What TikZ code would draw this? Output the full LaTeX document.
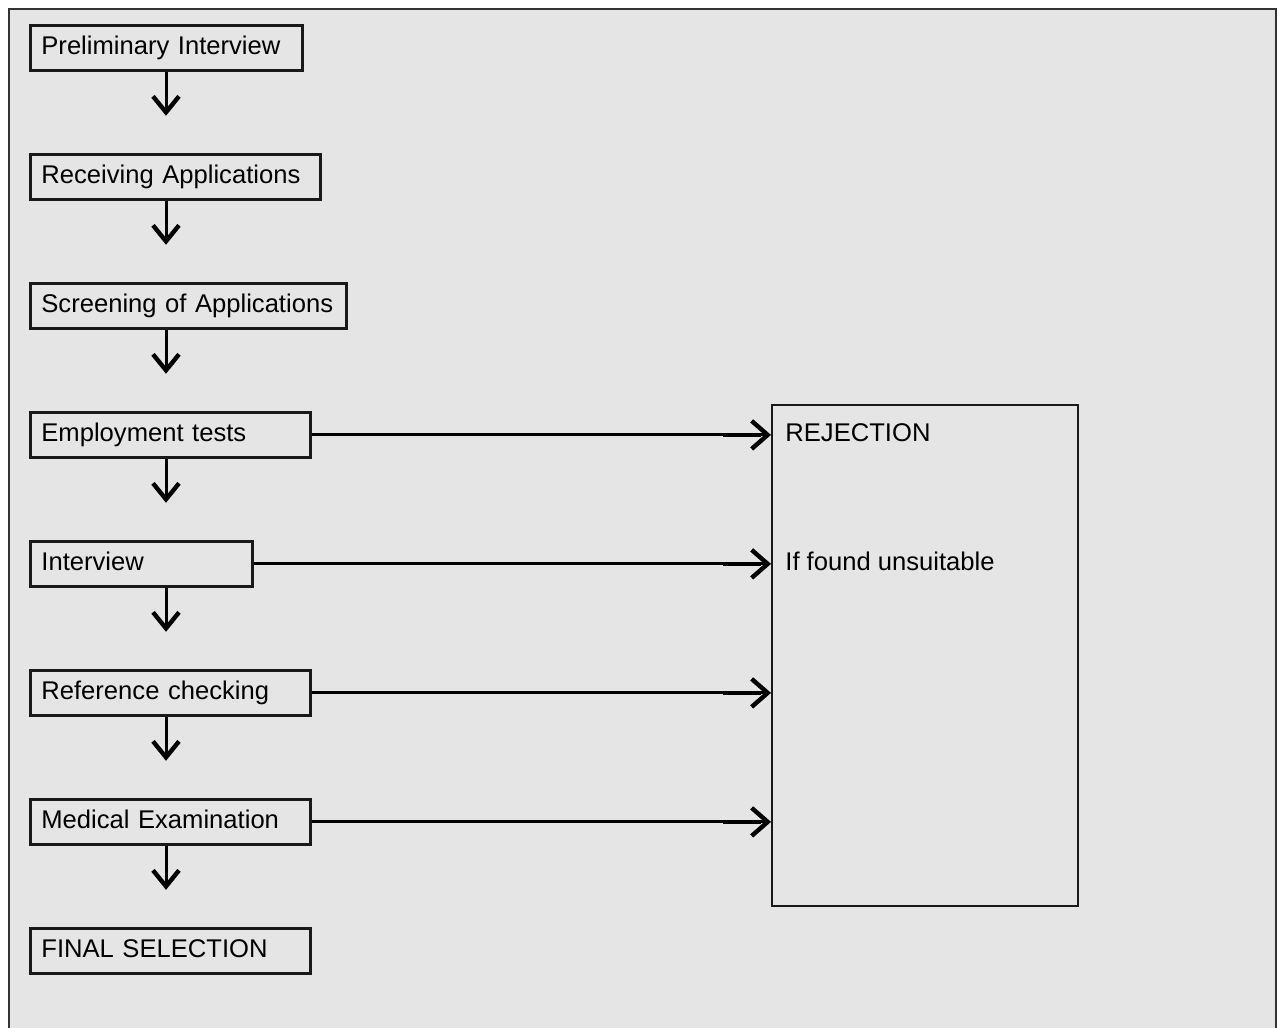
\documentclass[tikz,border=0pt]{standalone}
\usepackage{fontspec}
\setmainfont{Liberation Sans}
\usetikzlibrary{positioning,arrows.meta}
\definecolor{pagegray}{RGB}{229,229,229}

\begin{document}
\begin{tikzpicture}[
        x=0.5pt, y=-0.5pt,
        node distance=40.6pt,
        every node/.style={font=\fontsize{12.8}{15.4}\selectfont},
        stage/.style={
            draw=black!90,
            line width=1.4pt,
            fill=pagegray,
            minimum height=22.5pt,
            inner xsep=5.5pt,
            inner ysep=0pt,
            text height=10pt,
            text depth=3pt,
            align=left,
            text width=#1
        },
        next/.style={draw, below=of #1, anchor=north west},
        down/.style={line width=1.5pt, -{Straight Barb[length=8pt,width=13pt,line width=2.2pt]}},
        reject/.style={line width=1.5pt, -{Straight Barb[length=8pt,width=14pt,line width=2.2pt]}}
    ]

    \useasboundingbox (0,0) rectangle (1278,1027);
    % FRAME
    \draw[draw=black!80, line width=1.2pt, fill=pagegray] (9,9) rectangle (1276,1045);

    % STAGES
    \node[stage=125pt, anchor=north west] (p) at (29,24) {Preliminary Interview};
    \node[stage=134pt, next=p.south west] (r) {Receiving Applications};
    \node[stage=147pt, next=r.south west] (s) {Screening of Applications};
    \node[stage=129pt, next=s.south west] (e) {Employment tests};
    \node[stage=100pt, next=e.south west] (i) {Interview};
    \node[stage=129pt, next=i.south west] (ref) {Reference checking};
    \node[stage=129pt, next=ref.south west] (m) {Medical Examination};
    \node[stage=129pt, next=m.south west] (f) {FINAL SELECTION};

    % REJECTION
    \node[draw=black!90, line width=1.2pt, anchor=north west,
          minimum width=153pt, minimum height=250.5pt] (rej) at (771,404) {};
    \node[anchor=base west, inner sep=0pt] (rejtitle)
        at ([xshift=7pt, yshift=-3.5pt]rej.west |- e.east) {REJECTION};
    \node[anchor=base west, inner sep=0pt] (rejnote)
        at ([xshift=7pt, yshift=-3.5pt]rej.west |- i.east) {If found unsuitable};

    % ARROWS
    \foreach \a in {p,r,s,e,i,ref,m}
        \draw[down] ([xshift=68.5pt]\a.south west) -- ++(0,44);
    \foreach \a in {e,i,ref,m} {
        \draw[reject] (\a.east) -- (\a.east -| rej.west);
        \draw[line width=2.2pt] ([xshift=-24pt]\a.east -| rej.west) -- ([xshift=-5pt]\a.east -| rej.west);
    }
\end{tikzpicture}
\end{document}
